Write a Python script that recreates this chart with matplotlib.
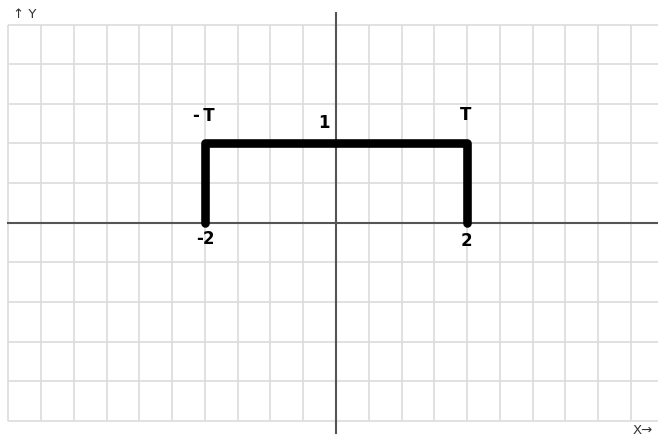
import numpy as np
import matplotlib
matplotlib.use("Agg")
import matplotlib.pyplot as plt

# data
pulse_x = [-2, -2, 2, 2]
pulse_y = [0, 1, 1, 0]
label_texts = ["-\u2009T", "1", "T", "-2", "2"]
label_x = [-2.02, -0.19, 1.98, -2.0, 1.99]
label_y = [1.34, 1.26, 1.36, -0.2, -0.23]

grid_x = np.arange(-5, 4.6, 0.5)
grid_y = np.arange(-2.5, 2.6, 0.5)

fig = plt.figure(figsize=(6.58, 4.36), dpi=100)
ax = fig.add_axes([0, 0, 1, 1])
x_left, x_right = -5.126, 4.912
y_bot, y_top = -2.689, 2.809
ax.set_xlim(x_left, x_right)
ax.set_ylim(y_bot, y_top)
ax.axis("off")

gc = "#dcdcdc"
ax.vlines(grid_x, -2.5, 2.5, colors=gc, linewidth=1.2, zorder=1)
ax.hlines(grid_y, -5, x_right + 0.1, colors=gc, linewidth=1.2, zorder=1)

# axes
ax.plot([-5, x_right + 0.1], [0, 0], color="#555555", linewidth=1.5, zorder=2)
ax.plot([0, 0], [-2.65, 2.648], color="#555555", linewidth=1.5, zorder=2)

# pulse
ax.plot(pulse_x, pulse_y, color="black", linewidth=6.2, solid_capstyle="round",
        solid_joinstyle="round", zorder=3)

for t, x, y in zip(label_texts, label_x, label_y):
    ax.text(x, y, t, ha="center", va="center", fontsize=12, fontweight="bold",
            color="black", zorder=4)

fig.text(13 / 658, 1 - 14 / 436, "↑ Y", ha="left", va="center", fontsize=9.5,
         color="#333333")
fig.text(633 / 658, 1 - 430 / 436, "X→", ha="left", va="center", fontsize=9.5,
         color="#333333")

fig.savefig("out.png", dpi=100)
